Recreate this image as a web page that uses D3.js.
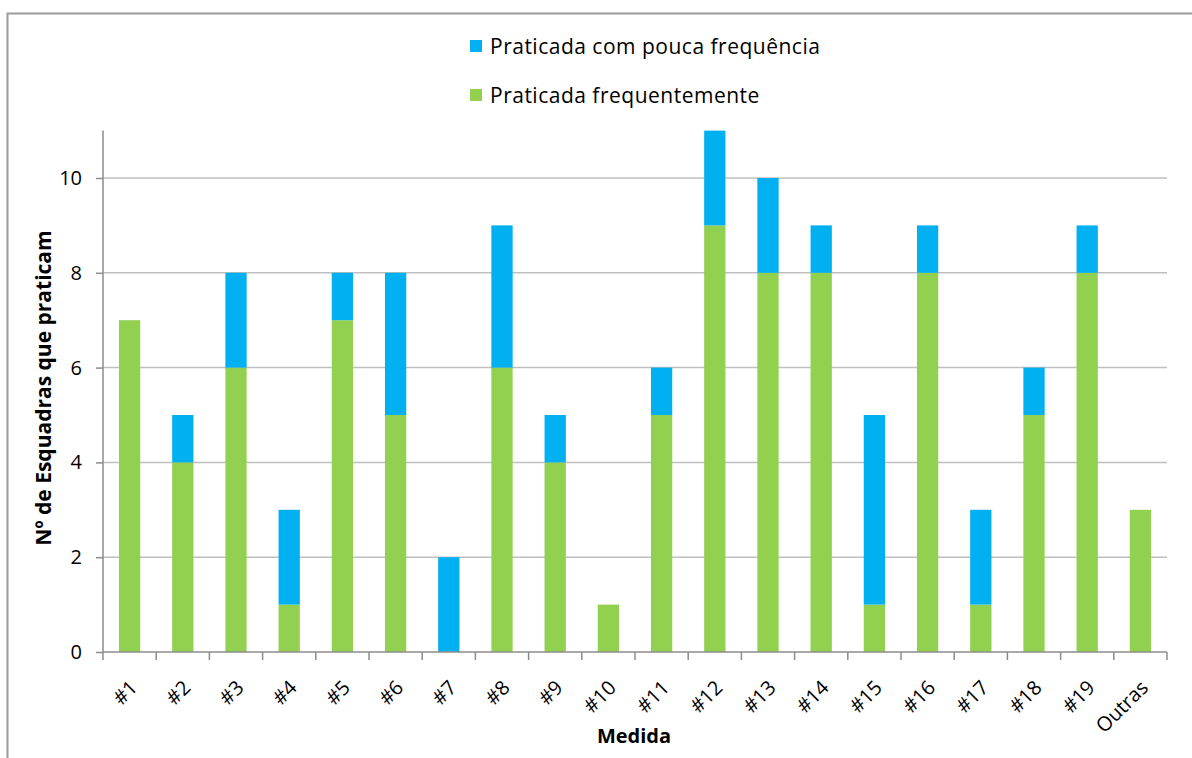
<!DOCTYPE html>
<html>
<head>
<meta charset="utf-8">
<script src="https://cdn.jsdelivr.net/npm/d3@7"></script>
<style>
  html, body { margin: 0; padding: 0; background: #fff; }
  svg { display: block; }
  text { font-family: "Open Sans", Lato, sans-serif; fill: #000; }
</style>
</head>
<body>
<svg id="chart" width="1192" height="758"></svg>
<script>
// Medidas praticadas pelas esquadras
const categories = ["#1","#2","#3","#4","#5","#6","#7","#8","#9","#10",
                    "#11","#12","#13","#14","#15","#16","#17","#18","#19","Outras"];
const frequente   = [7,4,6,1,7,5,0,6,4,1,5,9,8,8,1,8,1,5,8,3];
const poucaFreq   = [0,1,2,2,1,3,2,3,1,0,1,2,2,1,4,1,2,1,1,0];
const seriesNames = ["Praticada frequentemente", "Praticada com pouca frequência"];
const yTicks = [0,2,4,6,8,10];

const colors = { freq: "#92D050", pouca: "#00B0F0" };
const font = "'Open Sans', Lato, sans-serif";

const svg = d3.select("#chart");
const margin = { left: 103, right: 1167, top: 130.6, bottom: 652 };

// outer frame
svg.append("path")
  .attr("d", "M7.5,758 V13.5 H1192")
  .attr("fill", "none").attr("stroke", "#9a9a9a").attr("stroke-width", 2);

const x = d3.scaleBand().domain(categories).range([margin.left, margin.right])
  .paddingInner(0.6).paddingOuter(0.3);
const band = d3.scaleBand().domain(categories).range([margin.left, margin.right]);
const y = d3.scaleLinear().domain([0, 11]).range([margin.bottom, margin.top]);

// gridlines
svg.append("g").selectAll("line").data(yTicks.filter(d => d > 0)).join("line")
  .attr("x1", margin.left).attr("x2", margin.right)
  .attr("y1", d => y(d)).attr("y2", d => y(d))
  .attr("stroke", "#bfbfbf").attr("stroke-width", 1.5);

// stacked bars
const rows = categories.map((c, i) => ({ cat: c, freq: frequente[i], pouca: poucaFreq[i] }));
const stack = d3.stack().keys(["freq", "pouca"])(rows);
svg.append("g").selectAll("g").data(stack).join("g")
  .attr("fill", d => colors[d.key])
  .selectAll("rect").data(d => d).join("rect")
  .attr("x", d => x(d.data.cat))
  .attr("width", x.bandwidth())
  .attr("y", d => y(d[1]))
  .attr("height", d => y(d[0]) - y(d[1]));

// y axis
const yAxis = svg.append("g").attr("transform", `translate(${margin.left},0)`)
  .call(d3.axisLeft(y).tickValues(yTicks).tickSize(7).tickPadding(14).tickSizeOuter(0));
yAxis.select(".domain").attr("stroke", "#8c8c8c").attr("stroke-width", 1.5)
  .attr("d", `M0,${margin.top}V${margin.bottom}`);
yAxis.selectAll(".tick line").attr("stroke", "#8c8c8c").attr("stroke-width", 1.5);
yAxis.selectAll(".tick text").attr("font-size", 20).attr("fill", "#222")
  .style("font-family", font);

// x axis
const xAxisG = svg.append("g").attr("transform", `translate(0,${margin.bottom})`);
xAxisG.append("line").attr("x1", margin.left).attr("x2", margin.right)
  .attr("stroke", "#8c8c8c").attr("stroke-width", 1.5);
const tickPos = categories.map(c => band(c)).concat([band.range()[1]]);
xAxisG.selectAll("line.t").data(tickPos).join("line").attr("class", "t")
  .attr("x1", d => d).attr("x2", d => d).attr("y1", 0).attr("y2", 8)
  .attr("stroke", "#8c8c8c").attr("stroke-width", 1.5);
xAxisG.selectAll("text").data(categories).join("text")
  .attr("transform", d => `translate(${band(d) + band.bandwidth() / 2 + 9},${37}) rotate(-45)`)
  .attr("text-anchor", "end")
  .attr("font-size", 20)
  .text(d => d);

// axis titles
svg.append("text")
  .attr("transform", `translate(51,388) rotate(-90)`)
  .attr("text-anchor", "middle").attr("font-size", 21).attr("font-weight", "bold")
  .text("Nº de Esquadras  que praticam");
svg.append("text")
  .attr("x", 634).attr("y", 743)
  .attr("text-anchor", "middle").attr("font-size", 20).attr("font-weight", "bold")
  .text("Medida");

// legend
const legendItems = [
  { name: seriesNames[1], color: colors.pouca, y: 46 },
  { name: seriesNames[0], color: colors.freq, y: 95 }
];
const lg = svg.append("g").selectAll("g").data(legendItems).join("g")
  .attr("transform", d => `translate(470,${d.y})`);
lg.append("rect").attr("x", 0).attr("y", -6).attr("width", 12).attr("height", 12)
  .attr("fill", d => d.color);
lg.append("text").attr("x", 20).attr("y", 7.5).attr("font-size", 21)
  .attr("letter-spacing", 0.5).attr("fill", "#222")
  .text(d => d.name);
</script>
</body>
</html>
